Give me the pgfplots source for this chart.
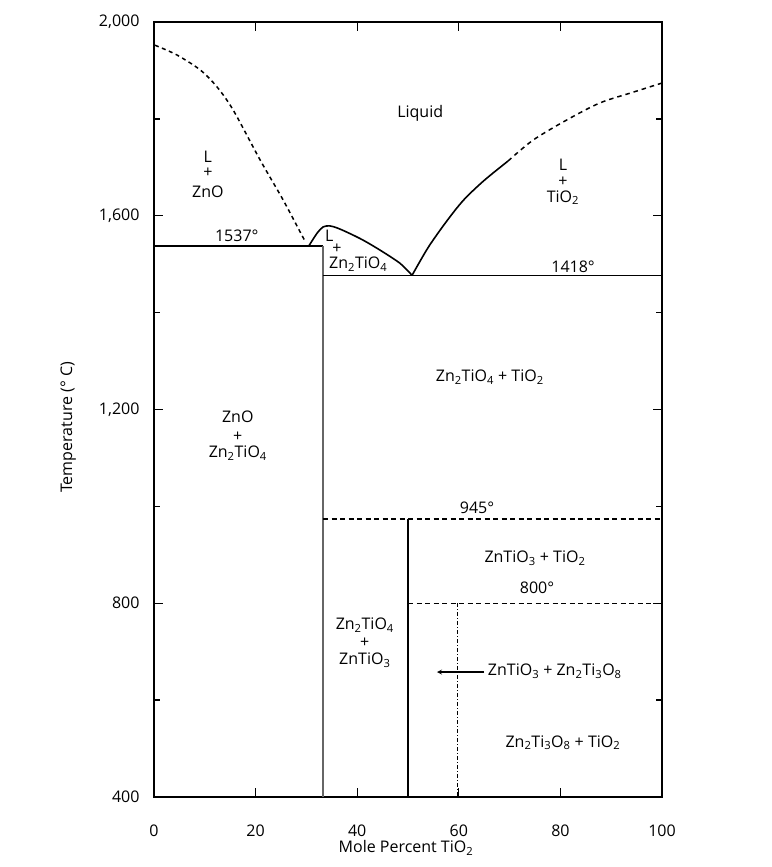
\documentclass[border=0pt]{standalone}
\usepackage{fontspec}
\setmainfont{Open Sans}
\usepackage{pgfplots}
\pgfplotsset{compat=1.18}
\begin{document}
\fontsize{16}{19}\selectfont
\begin{tikzpicture}
\path[use as bounding box] (-154pt,-70pt) rectangle (617pt,797pt);
\begin{axis}[
  scale only axis, width=508pt, height=775pt,
  at={(0,0)}, anchor=south west,
  xmin=0, xmax=100, ymin=400, ymax=2000,
  xtick={0,20,...,100}, ytick={400,800,...,2000}, minor y tick num=1,
  tick align=inside, major tick length=9pt, minor tick length=6pt,
  tick style={line width=1.3pt, black},
  axis line style={line width=1.5pt},
  /pgf/number format/assume math mode=true,
  /pgf/number format/1000 sep={,},
  font=\fontsize{16}{19}\selectfont,
  xticklabel shift=22pt, yticklabel shift=9pt,
  xlabel={Mole Percent TiO\textsubscript{2}},
  ylabel={Temperature (° C)},
  xlabel style={at={(rel axis cs:0.496,-0.066)}, anchor=center},
  ylabel style={at={(rel axis cs:-0.169,0.477)}, anchor=center},
  clip=false,
]
% ZnO liquidus (dashed)
\addplot[black, line width=1.5pt, dash pattern=on 4pt off 3.5pt, smooth] coordinates {
(0.2,1952) (4.5,1932) (9.1,1901) (12.4,1866) (15.6,1818) (20.9,1715) (25.4,1633) (29.3,1556) (29.9,1546)};
% Zn2TiO4 liquidus
\addplot[black, line width=1.6pt, smooth, tension=0.5] coordinates {
(30.5,1538) (32.1,1564) (33.3,1577) (34.6,1579) (36,1575) (38,1566) (41.1,1550) (44.5,1529) (48.4,1502) (50.8,1477)};
% TiO2 liquidus solid
\addplot[black, line width=1.6pt, smooth] coordinates {
(50.8,1477) (54,1535) (57.7,1590) (61,1633) (65,1673) (69.7,1713)};
% TiO2 liquidus dashed
\addplot[black, line width=1.5pt, dash pattern=on 4.5pt off 4pt, smooth] coordinates {
(69.7,1713) (74.6,1756) (81.3,1798) (87.8,1833) (94.3,1855) (100,1874)};
% 1537 line
\addplot[black, line width=1.6pt] coordinates {(0,1538) (33.3,1538)};
% Zn2TiO4 vertical
\addplot[black!60, line width=2.2pt] coordinates {(33.3,1538) (33.3,400)};
% 1418 line
\addplot[black, line width=1.6pt] coordinates {(33.3,1477) (100,1477)};
% 945 line
\addplot[black, line width=1.4pt, dash pattern=on 5pt off 3.5pt] coordinates {(33.3,974) (100,974)};
% ZnTiO3 vertical
\addplot[black, line width=1.6pt] coordinates {(50,974) (50,400)};
% 800 line
\addplot[black, line width=1.4pt, dash pattern=on 5pt off 3.5pt] coordinates {(50,800) (100,800)};
% Zn2Ti3O8 vertical
\addplot[black, line width=1.2pt, dash pattern=on 4pt off 2pt on 1pt off 2pt] coordinates {(59.7,800) (59.7,400)};

% labels
\node at (axis cs:52.4,1812) {Liquid};
\node at (axis cs:10.6,1721) {L};
\node at (axis cs:10.6,1688) {+};
\node at (axis cs:10.6,1649) {ZnO};
\node at (axis cs:80.5,1705) {L};
\node at (axis cs:80.5,1670) {+};
\node at (axis cs:80.5,1637) {TiO\textsubscript{2}};
\node at (axis cs:16.3,1558) {1537°};
\node[inner sep=0.3pt] at (axis cs:34.5,1558) {L};
\node[inner sep=0.3pt] at (axis cs:36,1532) {+};
\node[inner sep=0.3pt] at (axis cs:40.2,1500) {Zn\textsubscript{2}TiO\textsubscript{4}};
\node at (axis cs:82.5,1494) {1418°};
\node at (axis cs:66.1,1267) {Zn\textsubscript{2}TiO\textsubscript{4} + TiO\textsubscript{2}};
\node at (axis cs:16.5,1185) {ZnO};
\node at (axis cs:16.5,1143) {+};
\node at (axis cs:16.5,1110) {Zn\textsubscript{2}TiO\textsubscript{4}};
\node at (axis cs:63.6,997) {945°};
\node at (axis cs:75,893) {ZnTiO\textsubscript{3} + TiO\textsubscript{2}};
\node at (axis cs:75.4,831) {800°};
\node at (axis cs:41.5,755) {Zn\textsubscript{2}TiO\textsubscript{4}};
\node at (axis cs:41.5,718) {+};
\node at (axis cs:41.5,683) {ZnTiO\textsubscript{3}};
\node[anchor=west, inner sep=1pt] at (axis cs:65.5,660) {ZnTiO\textsubscript{3} + Zn\textsubscript{2}Ti\textsubscript{3}O\textsubscript{8}};
\draw[-stealth, line width=1.2pt] (axis cs:65,658) -- (axis cs:55.7,658);
\node at (axis cs:80.5,512) {Zn\textsubscript{2}Ti\textsubscript{3}O\textsubscript{8} + TiO\textsubscript{2}};
\end{axis}
\end{tikzpicture}
\end{document}
